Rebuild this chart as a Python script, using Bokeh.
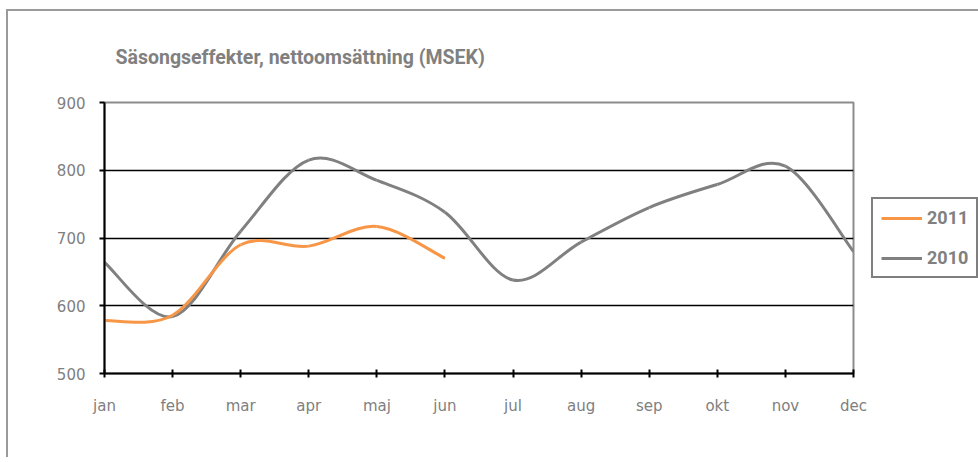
import numpy as np
from bokeh.plotting import figure
from bokeh.models import FixedTicker, Legend, LegendItem, ColumnDataSource, Range1d
from bokeh.embed import file_html
from bokeh.resources import INLINE

# ---- data ----
months = ["jan", "feb", "mar", "apr", "maj", "jun", "jul", "aug", "sep", "okt", "nov", "dec"]
sales_2010 = [664, 584, 710, 815, 785, 738, 638, 694, 745, 779, 806, 680]
sales_2011 = [578, 586, 690, 688, 717, 670]
y_ticks = [500, 600, 700, 800, 900]

ORANGE = "#F79646"
GRAY = "#808080"


def smooth_segments(values):
    """Bezier control points for an Excel-style smoothed line (Catmull-Rom, tension 1/6)."""
    xs = np.arange(len(values), dtype=float)
    ys = np.asarray(values, dtype=float)
    n = len(values)
    d = dict(x0=[], y0=[], x1=[], y1=[], cx0=[], cy0=[], cx1=[], cy1=[])
    for i in range(n - 1):
        p0 = max(i - 1, 0)
        p3 = min(i + 2, n - 1)
        d["x0"].append(xs[i]); d["y0"].append(ys[i])
        d["x1"].append(xs[i + 1]); d["y1"].append(ys[i + 1])
        d["cx0"].append(xs[i] + (xs[i + 1] - xs[p0]) / 6)
        d["cy0"].append(ys[i] + (ys[i + 1] - ys[p0]) / 6)
        d["cx1"].append(xs[i + 1] - (xs[p3] - xs[i]) / 6)
        d["cy1"].append(ys[i + 1] - (ys[p3] - ys[i]) / 6)
    return ColumnDataSource(d)


p = figure(
    frame_width=749, frame_height=271,
    output_backend="svg", toolbar_location=None,
    x_range=Range1d(0, len(months) - 1), y_range=Range1d(500, 900),
    min_border_left=96, min_border_right=125, min_border_top=91, min_border_bottom=84,
    background_fill_color="white", border_fill_color="white",
)
p.styles = {"margin-left": "6px", "margin-top": "9px",
            "border-left": "2px solid #9a9a9a", "border-top": "2px solid #9a9a9a"}

p.title.text = "Säsongseffekter, nettoomsättning (MSEK)"
p.title.text_font = "Roboto"
p.title.text_font_style = "bold"
p.title.text_font_size = "19.5px"
p.title.text_color = GRAY
p.title.align = "left"
p.title.vertical_align = "top"
p.title.offset = 11
p.title.standoff = 64

p.outline_line_color = "#8c8c8c"
p.outline_line_width = 2

# grid
p.xgrid.visible = False
p.ygrid.ticker = FixedTicker(ticks=[600, 700, 800])
p.ygrid.grid_line_color = "black"
p.ygrid.grid_line_width = 1.5

# axes
for ax in (p.xaxis[0], p.yaxis[0]):
    ax.axis_line_color = "black"
    ax.axis_line_width = 2
    ax.major_tick_line_color = "black"
    ax.major_tick_line_width = 2
    ax.minor_tick_line_color = None
    ax.major_label_text_color = GRAY
    ax.major_label_text_font = "DejaVu Sans"
    ax.major_label_text_font_size = "15px"

p.xaxis.ticker = FixedTicker(ticks=list(range(len(months))))
p.xaxis.major_label_overrides = {i: m for i, m in enumerate(months)}
p.xaxis.major_tick_in = 4
p.xaxis.major_tick_out = 4
p.xaxis.major_label_standoff = 19

p.yaxis.ticker = FixedTicker(ticks=y_ticks)
p.yaxis.major_tick_in = 0
p.yaxis.major_tick_out = 5
p.yaxis.major_label_standoff = 14

r2010 = p.bezier(x0="x0", y0="y0", x1="x1", y1="y1", cx0="cx0", cy0="cy0", cx1="cx1", cy1="cy1",
                 source=smooth_segments(sales_2010), line_color=GRAY, line_width=3)
r2011 = p.bezier(x0="x0", y0="y0", x1="x1", y1="y1", cx0="cx0", cy0="cy0", cx1="cx1", cy1="cy1",
                 source=smooth_segments(sales_2011), line_color=ORANGE, line_width=3)

legend = Legend(
    items=[LegendItem(label="2011", renderers=[r2011]), LegendItem(label="2010", renderers=[r2010])],
    location=(18, 95),
    orientation="vertical",
    border_line_color="black", border_line_width=2,
    background_fill_color="white", background_fill_alpha=1,
    label_text_font="Roboto", label_text_font_style="bold", label_text_font_size="18px",
    label_text_color=GRAY,
    glyph_width=41, glyph_height=20, label_height=20, label_standoff=5,
    spacing=19, padding=8, margin=0,
)
p.add_layout(legend, "right")

open("out.html", "w").write(file_html(p, INLINE))
